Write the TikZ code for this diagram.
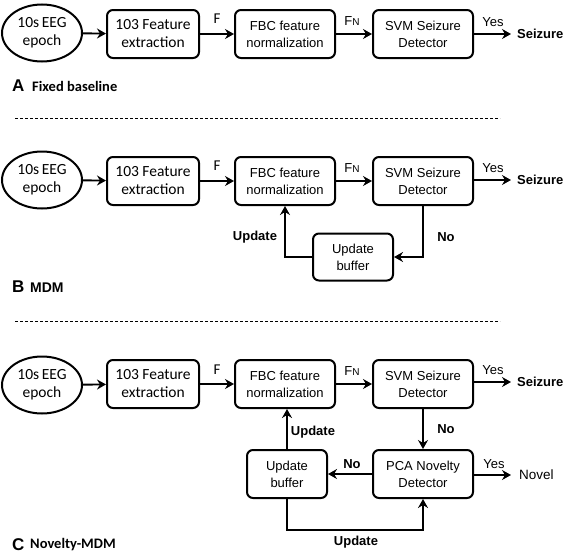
\documentclass[tikz,border=0pt]{standalone}
\usepackage{fontspec}
\usetikzlibrary{shapes.geometric,arrows.meta}
\newfontfamily\arialf{Liberation Sans}
\newfontfamily\calibf{Carlito}
\begin{document}
\begin{tikzpicture}[x=1pt,y=-1pt,
  blk/.style={draw,rounded corners=6pt,line width=2pt,minimum width=100pt,minimum height=48pt,
    align=center,inner sep=0pt,font=\arialf\fontsize{13}{17}\selectfont},
  featbox/.style={blk,minimum width=92pt,font=\calibf\fontsize{15.5}{18}\selectfont},
  bufbox/.style={blk,minimum width=80pt,minimum height=47pt},
  epochnode/.style={draw,ellipse,line width=2pt,minimum width=80pt,minimum height=57pt,inner sep=0pt,
    align=center,font=\calibf\fontsize{15.5}{18}\selectfont},
  conn/.style={line width=1.9pt,-{Stealth[length=9pt,width=10pt,inset=3pt]}},
  thickconn/.style={line width=2.8pt,-{Stealth[length=9pt,width=10pt,inset=3pt]}},
  lbl/.style={inner sep=0pt,font=\arialf\fontsize{13}{15}\selectfont},
  blbl/.style={inner sep=0pt,font=\arialf\bfseries\fontsize{13}{15}\selectfont},
  flbl/.style={inner sep=0pt,font=\calibf\fontsize{15}{17}\selectfont},
  outlbl/.style={inner sep=0pt,anchor=west,font=\arialf\bfseries\fontsize{13}{15}\selectfont},
  seclbl/.style={inner sep=0pt,anchor=west,font=\arialf\bfseries\fontsize{17}{19}\selectfont},
  sectxt/.style={inner sep=0pt,anchor=west,font=\calibf\bfseries\fontsize{14.5}{17}\selectfont},
  sep/.style={line width=0.8pt,dash pattern=on 3pt off 2pt}
]
\useasboundingbox (0,0) rectangle (567,554);

% ---------------- A ----------------
\node[epochnode] (eA) at (42,33) {10s\,EEG\\epoch};
\node[featbox] (fA) at (153,34) {103 Feature\\extraction};
\node[blk] (nA) at (285,34) {FBC feature\\normalization};
\node[blk] (sA) at (423,34) {SVM Seizure\\Detector};
\node[outlbl] (zA) at (517,34) {Seizure};
\coordinate (zAe) at (511,34);
\draw[conn] (eA) -- (fA);
\draw[conn] (fA) -- (nA);
\draw[conn] (nA) -- (sA);
\draw[conn] (sA) -- (zAe);
\node[flbl] (FA) at (217,19) {F};
\node[lbl] (FNA) at (352,21) {F{\fontsize{10}{12}\selectfont N}};
\node[lbl] (yA) at (493,22) {Yes};
\node[seclbl] (secA) at (12,86) {A};
\node[sectxt] (secAt) at (32,86) {Fixed baseline};
\coordinate (d1a) at (15,118);
\coordinate (d1b) at (500,118);
\draw[sep] (d1a) -- (d1b);

% ---------------- B ----------------
\node[epochnode] (eB) at (42,180) {10s\,EEG\\epoch};
\node[featbox] (fB) at (153,181) {103 Feature\\extraction};
\node[blk] (nB) at (285,181) {FBC feature\\normalization};
\node[blk] (sB) at (423,181) {SVM Seizure\\Detector};
\node[outlbl] (zB) at (517,180) {Seizure};
\coordinate (zBe) at (511,180);
\node[bufbox] (bB) at (353,257) {Update\\buffer};
\draw[conn] (eB) -- (fB);
\draw[conn] (fB) -- (nB);
\draw[conn] (nB) -- (sB);
\draw[conn] (sB.east |- zBe) -- (zBe);
\draw[conn] (sB.south) |- (bB.east);
\draw[conn] (bB.west) -| (nB.south);
\node[flbl] (FB) at (217,166) {F};
\node[lbl] (FNB) at (352,168) {F{\fontsize{10}{12}\selectfont N}};
\node[lbl] (yB) at (493,168) {Yes};
\node[blbl] (uB) at (255,237) {Update};
\node[blbl] (noB) at (446,237) {No};
\node[seclbl] (secB) at (12,287) {B};
\node[outlbl,font=\arialf\bfseries\fontsize{14}{16}\selectfont] (secBt) at (30,288) {MDM};
\coordinate (d2a) at (15,321);
\coordinate (d2b) at (500,321);
\draw[sep] (d2a) -- (d2b);

% ---------------- C ----------------
\node[epochnode] (eC) at (42,385) {10s\,EEG\\epoch};
\node[featbox] (fC) at (153,384) {103 Feature\\extraction};
\node[blk] (nC) at (285,384) {FBC feature\\normalization};
\node[blk] (sC) at (423,384) {SVM Seizure\\Detector};
\node[outlbl] (zC) at (517,382) {Seizure};
\coordinate (zCe) at (511,382);
\node[blk] (pC) at (423,474) {PCA Novelty\\Detector};
\node[bufbox,minimum height=48pt] (bC) at (287,474) {Update\\buffer};
\node[lbl,anchor=west,font=\arialf\fontsize{13.5}{15}\selectfont] (novC) at (519,475) {Novel};
\coordinate (novCe) at (511,475);
\coordinate (loopC) at (287,530);
\draw[conn] (eC) -- (fC);
\draw[conn] (fC) -- (nC);
\draw[conn] (nC) -- (sC);
\draw[conn] (sC.east |- zCe) -- (zCe);
\draw[conn] (sC) -- (pC);
\draw[conn] (pC) -- (bC);
\draw[conn] (pC.east |- novCe) -- (novCe);
\draw[conn] (bC.north) -- (nC.south -| bC.north);
\draw[thickconn] (bC.south) -- (loopC) -| (pC.south);
\node[flbl] (FC) at (217,370) {F};
\node[lbl] (FNC) at (352,371) {F{\fontsize{10}{12}\selectfont N}};
\node[lbl] (yC) at (493,370) {Yes};
\node[lbl] (yC2) at (494,464) {Yes};
\node[blbl] (noC) at (446,429) {No};
\node[blbl] (noC2) at (352,464) {No};
\node[blbl] (uC) at (313,432) {Update};
\node[blbl] (uC2) at (356,542) {Update};
\node[seclbl] (secC) at (12,545) {C};
\node[sectxt] (secCt) at (30,545) {Novelty-MDM};
\end{tikzpicture}
\end{document}
